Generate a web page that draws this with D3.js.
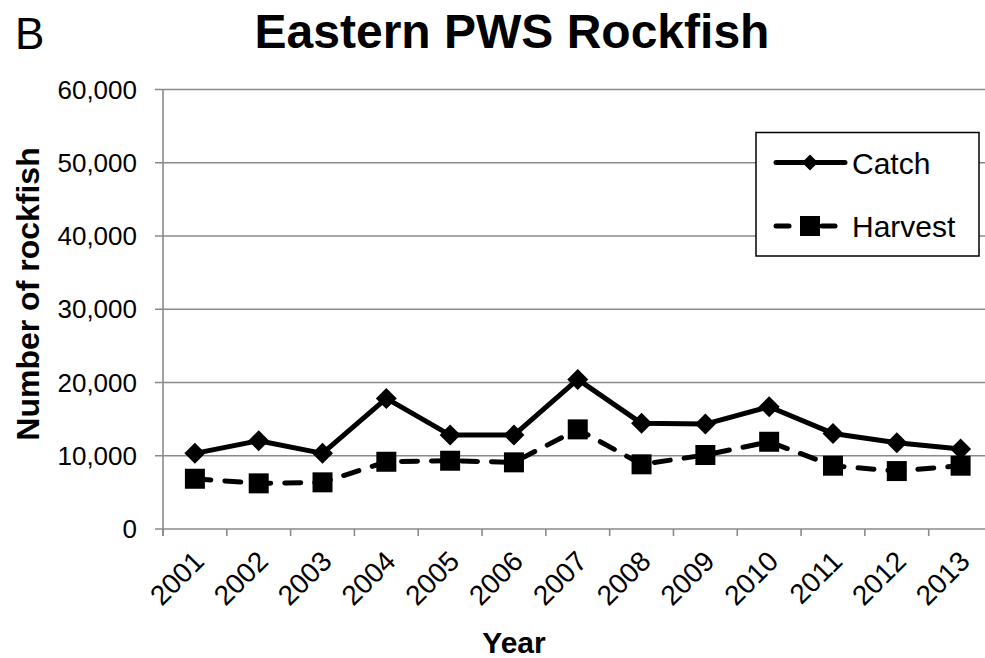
<!DOCTYPE html>
<html>
<head>
<meta charset="utf-8">
<script src="https://cdn.jsdelivr.net/npm/d3@7"></script>
<style>
  html, body { margin: 0; padding: 0; background: #fff; }
  svg { display: block; font-family: "Liberation Sans", Arial, sans-serif; }
</style>
</head>
<body>
<svg id="chart" width="985" height="658"></svg>
<script>
const years = ["2001","2002","2003","2004","2005","2006","2007","2008","2009","2010","2011","2012","2013"];
const catchValues = [10330, 12050, 10330, 17830, 12820, 12820, 20420, 14420, 14320, 16690, 13050, 11780, 10910];
const harvestValues = [6860, 6230, 6370, 9180, 9320, 9100, 13600, 8830, 10100, 11910, 8640, 7910, 8640];
const yTicks = [0, 10000, 20000, 30000, 40000, 50000, 60000];
const seriesNames = ["Catch", "Harvest"];

(function () {
const svg = d3.select("#chart");
const pLeft = 163, pRight = 992.5, pTop = 89.5, pBottom = 529;
const gridColor = "#8a8a8a";

const x = d3.scaleBand().domain(years).range([pLeft, pRight]);
const y = d3.scaleLinear().domain([0, 60000]).range([pBottom, pTop]);

// Gridlines
svg.append("g").selectAll("line").data(yTicks).join("line")
  .attr("x1", pLeft - 8).attr("x2", 985)
  .attr("y1", d => y(d)).attr("y2", d => y(d))
  .attr("stroke", gridColor).attr("stroke-width", 1.6);

// Y axis line
svg.append("line").attr("x1", pLeft).attr("x2", pLeft)
  .attr("y1", pTop).attr("y2", pBottom + 7)
  .attr("stroke", gridColor).attr("stroke-width", 1.6);

// Y tick labels
const fmt = d3.format(",");
svg.append("g").selectAll("text").data(yTicks).join("text")
  .attr("x", 137).attr("y", d => y(d))
  .attr("dy", "0.35em")
  .attr("text-anchor", "end")
  .attr("font-size", 26)
  .attr("fill", "#000")
  .text(d => fmt(d));

// X ticks (band edges)
const edges = years.map(d => x(d)).concat([x(years[years.length - 1]) + x.bandwidth()]);
svg.append("g").selectAll("line").data(edges).join("line")
  .attr("x1", d => d).attr("x2", d => d)
  .attr("y1", pBottom).attr("y2", pBottom + 7)
  .attr("stroke", gridColor).attr("stroke-width", 1.6);

// X tick labels rotated
svg.append("g").selectAll("text").data(years).join("text")
  .attr("transform", d => `translate(${x(d) + x.bandwidth() / 2 + 4},${pBottom + 27}) rotate(-45)`)
  .attr("text-anchor", "end")
  .attr("dy", "0.35em")
  .attr("font-size", 28)
  .attr("fill", "#000")
  .text(d => d);

// Lines
const cx = d => x(d) + x.bandwidth() / 2;
const line = d3.line().x(d => cx(d.year)).y(d => y(d.value));
const catchData = years.map((yr, i) => ({ year: yr, value: catchValues[i] }));
const harvestData = years.map((yr, i) => ({ year: yr, value: harvestValues[i] }));

svg.append("path").datum(harvestData)
  .attr("d", line).attr("fill", "none").attr("stroke", "#000")
  .attr("stroke-width", 5).attr("stroke-linecap", "round")
  .attr("stroke-dasharray", "16,14");

svg.append("path").datum(catchData)
  .attr("d", line).attr("fill", "none").attr("stroke", "#000")
  .attr("stroke-width", 5).attr("stroke-linejoin", "round");

// Markers
const diamond = (s) => `M0,${-s}L${s},0L0,${s}L${-s},0Z`;
svg.append("g").selectAll("path").data(catchData).join("path")
  .attr("transform", d => `translate(${cx(d.year)},${y(d.value)})`)
  .attr("d", diamond(10.5)).attr("fill", "#000");

svg.append("g").selectAll("rect").data(harvestData).join("rect")
  .attr("x", d => cx(d.year) - 10).attr("y", d => y(d.value) - 10)
  .attr("width", 20).attr("height", 20).attr("fill", "#000");

// Legend
const lg = svg.append("g");
lg.append("rect").attr("x", 756).attr("y", 132.5).attr("width", 223).attr("height", 123.5)
  .attr("fill", "#fff").attr("stroke", "#000").attr("stroke-width", 1.5);
lg.append("line").attr("x1", 776).attr("x2", 845).attr("y1", 162.5).attr("y2", 162.5)
  .attr("stroke", "#000").attr("stroke-width", 5).attr("stroke-linecap", "round");
lg.append("path").attr("transform", "translate(810,162.5)").attr("d", diamond(8)).attr("fill", "#000");
lg.append("text").attr("x", 852).attr("y", 173.5).attr("font-size", 30).text(seriesNames[0]);

lg.append("line").attr("x1", 776).attr("x2", 789).attr("y1", 226).attr("y2", 226)
  .attr("stroke", "#000").attr("stroke-width", 5).attr("stroke-linecap", "round");
lg.append("line").attr("x1", 822).attr("x2", 835).attr("y1", 226).attr("y2", 226)
  .attr("stroke", "#000").attr("stroke-width", 5).attr("stroke-linecap", "round");
lg.append("rect").attr("x", 800).attr("y", 216).attr("width", 20).attr("height", 20).attr("fill", "#000");
lg.append("text").attr("x", 852).attr("y", 237).attr("font-size", 30).text(seriesNames[1]);

// Title
svg.append("text").attr("x", 512).attr("y", 48).attr("text-anchor", "middle")
  .attr("font-size", 48).attr("font-weight", "bold").text("Eastern PWS Rockfish");
svg.append("text").attr("x", 15).attr("y", 49).attr("font-size", 44).text("B");

// Axis titles
svg.append("text").attr("transform", "translate(39,294) rotate(-90)")
  .attr("text-anchor", "middle").attr("font-size", 32).attr("font-weight", "bold")
  .text("Number of rockfish");
svg.append("text").attr("x", 514).attr("y", 653).attr("text-anchor", "middle")
  .attr("font-size", 30).attr("font-weight", "bold").text("Year");
})();
</script>
</body>
</html>
